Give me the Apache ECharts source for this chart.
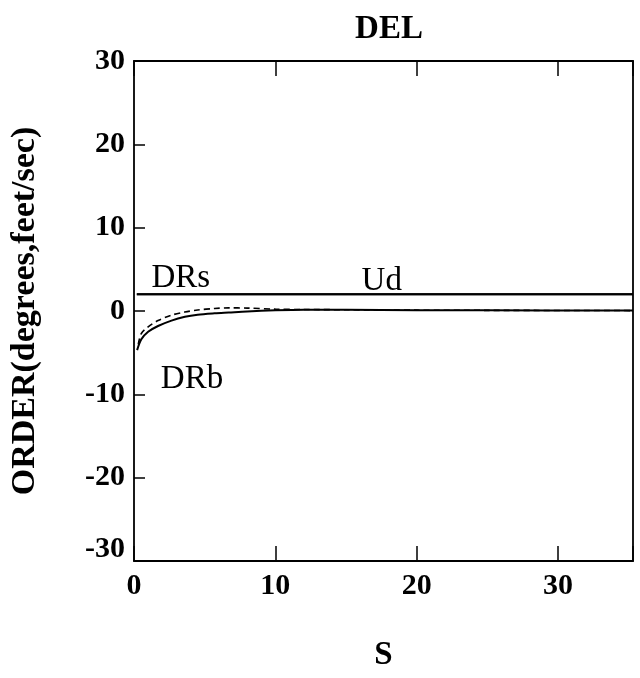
<!DOCTYPE html>
<html>
<head>
<meta charset="utf-8">
<script src="https://cdn.jsdelivr.net/npm/echarts@6/dist/echarts.min.js"></script>
<style>html,body{margin:0;padding:0;background:#fff;}#c{width:640px;height:678px;}</style>
</head>
<body>
<div id="c"></div>
<script>
// ---- data ----
var titleText = 'DEL';
var xName = 'S';
var yName = 'ORDER(degrees,feet/sec)';
var xMin = 0, xMax = 35.3, xStep = 10;
var yMin = -30, yMax = 30, yStep = 10;

var drsS = [0.2, 35.3];
var drsV = [2.0, 2.0];
var udS = [0.2, 35.3];
var udV = [2.0, 2.0];

var drbS = [0.22, 0.52, 1.0, 1.7, 2.65, 3.6, 4.5, 5.7, 6.7, 8, 10, 12, 15, 20, 25, 35.3];
var drbV = [-4.7, -3.4, -2.5, -1.8, -1.15, -0.7, -0.45, -0.28, -0.18, -0.05, 0.08, 0.15, 0.15, 0.1, 0.08, 0.05];

var dashS = [0.3, 0.52, 1.0, 1.7, 2.65, 3.6, 4.5, 5.7, 6.7, 8, 10, 12, 15, 20, 25, 35.3];
var dashV = [-4.0, -2.7, -1.9, -1.15, -0.5, -0.12, 0.12, 0.3, 0.38, 0.35, 0.22, 0.18, 0.15, 0.1, 0.08, 0.05];

var labelTexts = ['DRs', 'Ud', 'DRb'];
var labelS = [1.23, 16.1, 1.9];
var labelV = [3.9, 3.6, -8.2];

function pairs(xs, ys) { return xs.map(function (x, i) { return [x, ys[i]]; }); }

var serif = '"Liberation Serif", "DejaVu Serif", serif';
var chart = echarts.init(document.getElementById('c'), null, { renderer: 'canvas' });

var axisLine = { show: true, onZero: false, lineStyle: { color: '#000', width: 1.8 } };
var tickStyle = { color: '#000', width: 1.5 };
var tickFont = { fontFamily: serif, fontWeight: 'bold', fontSize: 30, color: '#000' };

chart.setOption({
  animation: false,
  backgroundColor: '#fff',
  title: {
    text: titleText, left: 384, top: 8, textAlign: 'center',
    textStyle: { fontFamily: serif, fontWeight: 'bold', fontSize: 33, color: '#000' }
  },
  grid: { left: 134, right: 7, top: 61, bottom: 117, containLabel: false },
  xAxis: [{
    type: 'value', min: xMin, max: xMax, interval: xStep, position: 'bottom',
    name: xName, nameLocation: 'middle', nameGap: 78,
    nameTextStyle: { fontFamily: serif, fontWeight: 'bold', fontSize: 33, color: '#000' },
    axisLine: axisLine,
    axisTick: { show: true, inside: true, length: 15, lineStyle: tickStyle },
    axisLabel: { fontFamily: serif, fontWeight: 'bold', fontSize: 30, color: '#000', margin: 10,
      formatter: function (v) { return v % 10 === 0 ? String(v) : ''; } },
    splitLine: { show: false }
  }, {
    type: 'value', min: xMin, max: xMax, interval: xStep, position: 'top',
    axisLine: axisLine,
    axisTick: { show: true, inside: true, length: 15, lineStyle: tickStyle },
    axisLabel: { show: false }, splitLine: { show: false }
  }],
  yAxis: [{
    type: 'value', min: yMin, max: yMax, interval: yStep, position: 'left',
    name: yName, nameLocation: 'middle', nameGap: 92,
    nameTextStyle: { fontFamily: serif, fontWeight: 'bold', fontSize: 34, color: '#000' },
    axisLine: axisLine,
    axisTick: { show: true, inside: true, length: 11, lineStyle: tickStyle },
    axisLabel: {
      fontFamily: serif, fontWeight: 'bold', fontSize: 30, color: '#000', margin: 9,
      formatter: function (v) { return v === yMin ? '{lo|' + v + '}' : String(v); },
      rich: { lo: Object.assign({ padding: [0, 0, 24, 0] }, tickFont) }
    },
    splitLine: { show: false }
  }, {
    type: 'value', min: yMin, max: yMax, interval: yStep, position: 'right',
    axisLine: axisLine, axisTick: { show: false }, axisLabel: { show: false }, splitLine: { show: false }
  }],
  series: [
    { name: 'DRs', type: 'line', data: pairs(drsS, drsV), showSymbol: false, lineStyle: { color: '#000', width: 2 } },
    { name: 'Ud', type: 'line', data: pairs(udS, udV), showSymbol: false, lineStyle: { color: '#000', width: 2 } },
    { name: 'DRb', type: 'line', data: pairs(drbS, drbV), showSymbol: false, smooth: 0.3, lineStyle: { color: '#000', width: 2 } },
    { name: 'DRb-ref', type: 'line', data: pairs(dashS, dashV), showSymbol: false, smooth: 0.3, lineStyle: { color: '#000', width: 1.6, type: [6, 4] } }
  ]
});

var gfx = labelTexts.map(function (t, i) {
  var p = chart.convertToPixel({ gridIndex: 0 }, [labelS[i], labelV[i]]);
  return {
    type: 'text', x: p[0], y: p[1],
    style: { text: t, fill: '#000', font: '33px ' + serif, textAlign: 'left', textVerticalAlign: 'middle' }
  };
});
chart.setOption({ graphic: gfx });
</script>
</body>
</html>
